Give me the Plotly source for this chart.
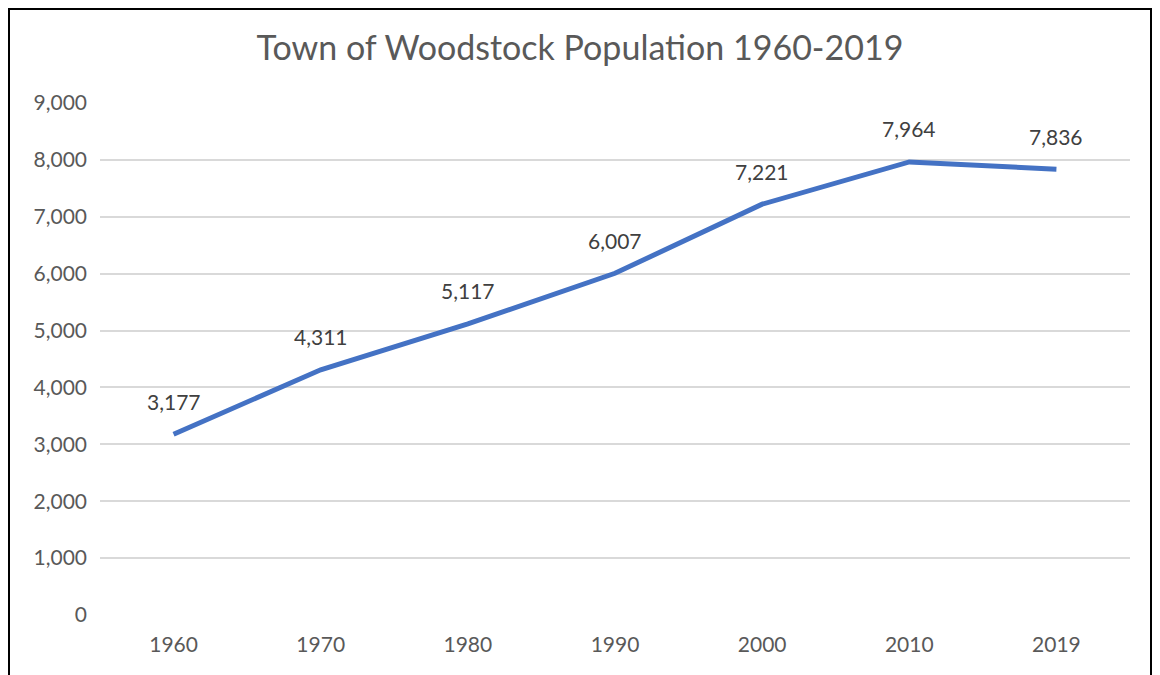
import plotly.graph_objects as go

years = ["1960", "1970", "1980", "1990", "2000", "2010", "2019"]
population = [3177, 4311, 5117, 6007, 7221, 7964, 7836]
title_text = "Town of Woodstock Population 1960-2019"

# page is rendered with an 8px body margin, so figure coords = page coords - 8
OFF = 8
W, H = 1160 - OFF, 675 - OFF
L = 100 - OFF
T = 103 - OFF
R = W - (1130 - OFF)
B = H - (615 - OFF)
pw, ph = W - L - R, H - T - B

fig = go.Figure()
fig.add_trace(go.Scatter(
    x=list(range(len(years))), y=population, mode="lines",
    line=dict(color="#4472C4", width=5),
    hoverinfo="y",
))

for i, v in enumerate(population):
    fig.add_annotation(
        x=i, y=v, xref="x", yref="y", text=f"{v:,}", showarrow=False, yshift=33,
        font=dict(family="Lato", size=21, color="#404040"),
    )

def px_to_paper_x(px):
    return (px - L) / pw

def py_to_paper_y(py):
    return (H - B - py) / ph

# outer chart border
fig.add_shape(
    type="rect", xref="paper", yref="paper",
    x0=px_to_paper_x(1), x1=px_to_paper_x(1151 - OFF),
    y0=py_to_paper_y(H + 10), y1=py_to_paper_y(1),
    line=dict(color="black", width=2), fillcolor="rgba(0,0,0,0)", layer="above",
)

fig.update_layout(
    width=W, height=H,
    margin=dict(l=L, r=R, t=T, b=B),
    paper_bgcolor="white", plot_bgcolor="white",
    showlegend=False,
    title=dict(text=title_text, x=(580 - OFF) / W, xref="container", xanchor="center",
               y=1 - (48 - OFF) / H, yanchor="middle",
               font=dict(family="Lato", size=34, color="#595959")),
    xaxis=dict(range=[-0.5, 6.5], tickmode="array",
               tickvals=list(range(len(years))), ticktext=years,
               showgrid=False, zeroline=False,
               showline=False, ticks="", ticklabelstandoff=15,
               tickfont=dict(family="Lato", size=21, color="#595959")),
    yaxis=dict(range=[0, 9000], dtick=1000, tickformat=",", showgrid=True,
               gridcolor="#D9D9D9", gridwidth=1.5, zeroline=False, showline=False,
               ticks="", ticklabelstandoff=12,
               tickfont=dict(family="Lato", size=21, color="#595959")),
)

fig.write_html("out.html")
